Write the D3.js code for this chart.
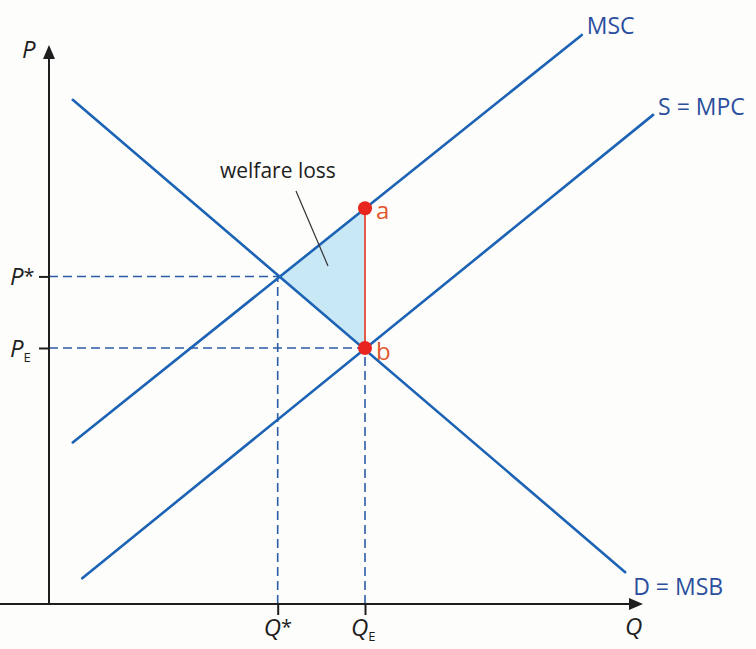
<!DOCTYPE html>
<html>
<head>
<meta charset="utf-8">
<script src="https://cdn.jsdelivr.net/npm/d3@7"></script>
<style>
  html, body { margin: 0; padding: 0; background: #fdfdfb; }
  svg { display: block; }
  text { font-family: "Open Sans", "Noto Sans", sans-serif; }
</style>
</head>
<body>
<script>
// ---- data (abstract units: Q on x, P on y) ----
const curveNames = ["MSB", "MSC", "MPC"];
const curveLabels = ["D = MSB", "MSC", "S = MPC"];
const msbLine = [[4.0, 90.2], [97.0, 5.7]];
const mscLine = [[4.0, 28.9], [89.7, 101.8]];
const mpcLine = [[5.6, 4.6], [101.7, 87.5]];
const qTickNames = ["Q*", "QE"];
const qTickValues = [38.5, 53.2];
const pTickNames = ["P*", "PE"];
const pTickValues = [58.6, 45.8];
const welfareLoss = [[38.5, 58.6], [53.2, 70.8], [53.2, 45.8]];
const pointNames = ["a", "b"];
const pointValues = [[53.2, 70.8], [53.2, 45.8]];

const W = 756, H = 649;
const svg = d3.select("body").append("svg").attr("width", W).attr("height", H);

const x = d3.scaleLinear().domain([0, 100]).range([49, 643]);
const y = d3.scaleLinear().domain([0, 100]).range([604, 45]);

const blue = "#1c63b5";
const labelBlue = "#2b4f9e";
const red = "#e8261f";
const redText = "#e2582c";
const ink = "#1e1e1e";

// welfare loss triangle
svg.append("path")
  .attr("d", d3.line().x(d => x(d[0])).y(d => y(d[1])).curve(d3.curveLinearClosed)(welfareLoss))
  .attr("fill", "#c8e8f6");

// dashed guide lines
const dashG = svg.append("g").attr("stroke", "#2c5ba8").attr("stroke-width", 1.6)
  .attr("stroke-dasharray", "9,5").attr("fill", "none");
pTickValues.forEach((p, i) => {
  dashG.append("line").attr("x1", x(0)).attr("x2", x(qTickValues[i])).attr("y1", y(p)).attr("y2", y(p));
  dashG.append("line").attr("x1", x(qTickValues[i])).attr("x2", x(qTickValues[i])).attr("y1", y(0)).attr("y2", y(p));
});

// axes
const yAxis = d3.axisLeft(y).tickValues(pTickValues).tickSize(10).tickSizeOuter(0).tickFormat("");
const xAxis = d3.axisBottom(x).tickValues(qTickValues).tickSize(11).tickSizeOuter(0).tickFormat("");
const gy = svg.append("g").attr("transform", `translate(${x(0)},0)`).call(yAxis);
const gx = svg.append("g").attr("transform", `translate(0,${y(0)})`).call(xAxis);
[gy, gx].forEach(g => {
  g.select(".domain").attr("stroke", ink).attr("stroke-width", 2);
  g.selectAll(".tick line").attr("stroke", ink).attr("stroke-width", 2);
});
gy.select(".domain").attr("d", `M0,${y(0)}V${y(100) + 10}`);
gx.select(".domain").attr("d", `M0,0H${x(100) - 10}`);
// arrowheads
svg.append("path").attr("fill", ink)
  .attr("d", `M${x(0)},${y(100)} L${x(0) - 6},${y(100) + 14} L${x(0) + 6},${y(100) + 14} Z`);
svg.append("path").attr("fill", ink)
  .attr("d", `M${x(100)},${y(0)} L${x(100) - 14},${y(0) - 6} L${x(100) - 14},${y(0) + 6} Z`);

// curves
const curves = [msbLine, mscLine, mpcLine];
svg.append("g").selectAll("line").data(curves).join("line")
  .attr("x1", d => x(d[0][0])).attr("y1", d => y(d[0][1]))
  .attr("x2", d => x(d[1][0])).attr("y2", d => y(d[1][1]))
  .attr("stroke", blue).attr("stroke-width", 2.6).attr("stroke-linecap", "round");

// curve labels
const labelOffsets = [[8, 23], [5, -1], [5, 0]];
svg.append("g").selectAll("text").data(curves).join("text")
  .attr("x", (d, i) => x(d[1][0]) + labelOffsets[i][0])
  .attr("y", (d, i) => y(d[1][1]) + labelOffsets[i][1])
  .attr("fill", labelBlue).attr("font-size", 23)
  .text((d, i) => curveLabels[i]);

// a-b vertical line
svg.append("line")
  .attr("x1", x(pointValues[0][0])).attr("x2", x(pointValues[1][0]))
  .attr("y1", y(pointValues[0][1])).attr("y2", y(pointValues[1][1]))
  .attr("stroke", "#e04a33").attr("stroke-width", 1.8);

// points
svg.append("g").selectAll("circle").data(pointValues).join("circle")
  .attr("cx", d => x(d[0])).attr("cy", d => y(d[1])).attr("r", 7).attr("fill", red);
svg.append("g").selectAll("text").data(pointValues).join("text")
  .attr("x", d => x(d[0]) + 11).attr("y", (d, i) => y(d[1]) + (i === 0 ? 11 : 12))
  .attr("fill", redText).attr("font-size", 24)
  .text((d, i) => pointNames[i]);

// welfare loss annotation
svg.append("text").attr("x", 220).attr("y", 178).attr("fill", ink).attr("font-size", 21)
  .text("welfare loss");
svg.append("line").attr("x1", 296).attr("y1", 191).attr("x2", 328).attr("y2", 266)
  .attr("stroke", "#333").attr("stroke-width", 1.2);

// axis labels
function italicLabel(xp, yp, main, sub, star, anchor) {
  const t = svg.append("text").attr("x", xp).attr("y", yp).attr("fill", ink)
    .attr("font-size", 24).attr("font-style", "italic").attr("text-anchor", anchor || "start");
  t.append("tspan").text(main);
  if (star) t.append("tspan").attr("font-style", "normal").attr("font-size", 20).attr("dy", -2).text("*");
  if (sub) t.append("tspan").attr("font-style", "normal").attr("font-size", 13).attr("dy", 5).text(sub);
  return t;
}
italicLabel(22, 58, "P");
italicLabel(x(100) - 18, 635, "Q");
pTickNames.forEach((n, i) => {
  italicLabel(10, y(pTickValues[i]) + 9, "P", n === "PE" ? "E" : null, n === "P*");
});
qTickNames.forEach((n, i) => {
  italicLabel(x(qTickValues[i]) - 14, 636, "Q", n === "QE" ? "E" : null, n === "Q*");
});
</script>
</body>
</html>
